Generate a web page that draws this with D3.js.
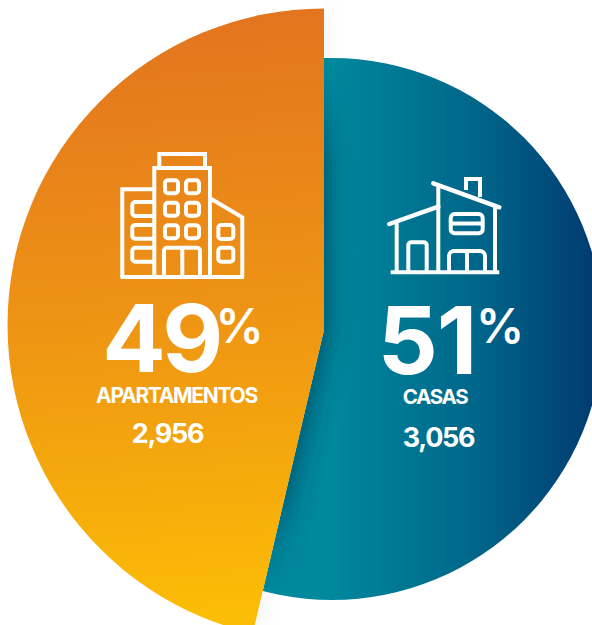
<!DOCTYPE html>
<html><head><meta charset="utf-8">
<script src="https://cdn.jsdelivr.net/npm/d3@7/dist/d3.min.js"></script>
<style>html,body{margin:0;padding:0;background:#fff;overflow:hidden}svg{display:block}text{font-family:Inter,"Liberation Sans",sans-serif;fill:#fff;text-anchor:middle}</style>
</head><body><svg id="c" width="592" height="625"></svg>
<script>
// Data
const categories = ["CASAS", "APARTAMENTOS"];
const percentLabels = [51, 49];
const countLabels = [3056, 2956];
// Sweep of each slice as actually drawn in the reference (% of a full turn)
const drawnSweep = [53.67, 46.33];

const svg = d3.select("#c");
const defs = svg.append("defs");

const vertex = [324, 330];
const tealC = [332, 329], tealR = 271;
const orangeC = [324, 325], orangeR = 316.5;

// gradients (in the local coordinates of each translated disc)
const og = defs.append("linearGradient").attr("id","orange").attr("gradientUnits","userSpaceOnUse")
  .attr("x1",190-orangeC[0]).attr("y1",0-orangeC[1]).attr("x2",240-orangeC[0]).attr("y2",625-orangeC[1]);
[[0,"#e2731f"],[0.5,"#ee9414"],[1,"#fcbe05"]].forEach(s=>og.append("stop").attr("offset",s[0]).attr("stop-color",s[1]));
const tg = defs.append("linearGradient").attr("id","teal").attr("gradientUnits","userSpaceOnUse")
  .attr("x1",335-tealC[0]).attr("y1",0).attr("x2",592-tealC[0]).attr("y2",0);
[[0,"#00889d"],[0.12,"#007f98"],[0.55,"#00668a"],[1,"#003c70"]].forEach(s=>tg.append("stop").attr("offset",s[0]).attr("stop-color",s[1]));
const bl = defs.append("filter").attr("id","blur").attr("x","-30%").attr("y","-30%").attr("width","160%").attr("height","160%");
bl.append("feGaussianBlur").attr("stdDeviation",15);
const bl2 = defs.append("filter").attr("id","soft").attr("x","-30%").attr("y","-30%").attr("width","160%").attr("height","160%");
bl2.append("feGaussianBlur").attr("stdDeviation",14);

// shadow fades out towards the rim of the teal disc
const rg = defs.append("radialGradient").attr("id","fade").attr("gradientUnits","userSpaceOnUse")
  .attr("cx",vertex[0]).attr("cy",vertex[1]).attr("r",265);
[[0,"#fff"],[0.62,"#fff"],[1,"#000"]].forEach(s=>rg.append("stop").attr("offset",s[0]).attr("stop-color",s[1]));
defs.append("mask").attr("id","fadeMask").attr("maskUnits","userSpaceOnUse")
  .attr("x",0).attr("y",0).attr("width",592).attr("height",625)
  .append("rect").attr("width",592).attr("height",625).attr("fill","url(#fade)");

// layout
const pie = d3.pie().sort(null).value(d=>d).startAngle(0).endAngle(2*Math.PI);
const slices = pie(drawnSweep);
const arcWedge = d3.arc().innerRadius(0).outerRadius(450);
const discT = d3.arc().innerRadius(0).outerRadius(tealR).startAngle(0).endAngle(2*Math.PI);
const discO = d3.arc().innerRadius(0).outerRadius(orangeR).startAngle(0).endAngle(2*Math.PI);

defs.append("clipPath").attr("id","tealWedge").append("path")
  .attr("transform",`translate(${vertex})`).attr("d",arcWedge(slices[0]));
defs.append("clipPath").attr("id","orangeWedge").append("path")
  .attr("transform",`translate(${vertex})`).attr("d",arcWedge(slices[1]));
defs.append("clipPath").attr("id","tealDisc").append("path")
  .attr("transform",`translate(${tealC})`).attr("d",discT());

const orangeShape = g => g.append("g").attr("clip-path","url(#orangeWedge)").append("path")
  .attr("transform",`translate(${orangeC})`).attr("d",discO());

// very faint shadow on the white ground, only on the teal side of the cut
const faint = svg.append("g").attr("clip-path","url(#tealWedge)");
orangeShape(faint.append("g").attr("filter","url(#soft)").attr("opacity",0.06)).attr("fill","#000");

// teal slice
const tealG = svg.append("g").attr("clip-path","url(#tealWedge)");
tealG.append("path").attr("transform",`translate(${tealC})`).attr("d",discT()).attr("fill","url(#teal)");
// shadow that the orange slice casts on the teal one
const shadow = tealG.append("g").attr("clip-path","url(#tealDisc)").append("g").attr("mask","url(#fadeMask)")
  .append("g").attr("filter","url(#blur)").attr("opacity",0.8);
orangeShape(shadow).attr("fill","#00304f");

// orange slice
orangeShape(svg).attr("fill","url(#orange)");

// icons
const icon = svg.append("g").attr("fill","none").attr("stroke","#fff").attr("stroke-linejoin","miter");
const building = [
 "M154.3 277V168H210V277","M159.3 168V154H205V168","M154 189.3H122.3V277","M210 198.3L242.3 217.3V277","M120.5 277H244",
 "M132.3 205a3 3 0 0 1 3-3H154","M154 216H135.3a3 3 0 0 1-3-3V205",
 "M154 225H135.3a3 3 0 0 0-3 3V235.7a3 3 0 0 0 3 3H154",
 "M154 247.7H135.3a3 3 0 0 0-3 3V258.7a3 3 0 0 0 3 3H154",
 "M164 277V250.7a3 3 0 0 1 3-3H197a3 3 0 0 1 3 3V277","M182.3 247.7V277"
];
icon.append("g").attr("stroke-width",4).selectAll("path").data(building).join("path").attr("d",d=>d);
const winRects = [[165,180.3],[186,180.3],[165,202.7],[186,202.7],[165,225.3],[186,225.3]];
icon.append("g").attr("stroke-width",4).selectAll("rect").data(winRects).join("rect")
  .attr("x",d=>d[0]).attr("y",d=>d[1]).attr("width",13).attr("height",13).attr("rx",3);
icon.append("g").attr("stroke-width",4).selectAll("rect").data([[218.3,225],[218.3,247.7]]).join("rect")
  .attr("x",d=>d[0]).attr("y",d=>d[1]).attr("width",15).attr("height",14).attr("rx",3);

const house = [
 "M390.7 272.3H499.3",
 "M438.3 187V272","M396.7 222V272","M495 206V272",
 "M466 190V179H480V197",
 "M450.7 223.5H482.7",
 "M408.3 272V245.3a3 3 0 0 1 3-3H423.7a3 3 0 0 1 3 3V272",
 "M449 272V256a5 5 0 0 1 5-5H480a5 5 0 0 1 5 5V272","M467 251V272"
];
icon.append("g").attr("stroke-width",4).selectAll("path").data(house).join("path").attr("d",d=>d);
icon.append("rect").attr("stroke-width",4).attr("x",450.7).attr("y",214).attr("width",32).attr("height",19.3).attr("rx",4);
icon.append("g").attr("stroke-width",4.5).attr("stroke-linecap","round").selectAll("path")
  .data(["M433.3 183.3L499.3 207.3","M389.3 224L438.3 206.7"]).join("path").attr("d",d=>d);

// labels
const fmt = d3.format(",");
const labelPos = [
 {big:[427,374], ls:-1, pct:[500,343], name:[435,404], nameSize:20.5, cnt:[438.5,447]},
 {big:[161,372], ls:-3.5, pct:[239.5,343], name:[176.5,403], nameSize:21, cnt:[167.5,443]}
];
categories.forEach((c,i)=>{
  const p = labelPos[i];
  svg.append("text").attr("x",p.big[0]).attr("y",p.big[1]).attr("font-size",94).attr("font-weight",700).attr("letter-spacing",p.ls).text(percentLabels[i]);
  svg.append("text").attr("x",p.pct[0]).attr("y",p.pct[1]).attr("font-size",48).attr("font-weight",600).text("%");
  svg.append("text").attr("x",p.name[0]).attr("y",p.name[1]).attr("font-size",p.nameSize).attr("font-weight",700).attr("letter-spacing",-1.3).text(c);
  svg.append("text").attr("x",p.cnt[0]).attr("y",p.cnt[1]).attr("font-size",27).attr("font-weight",700).attr("letter-spacing",-1.3).text(fmt(countLabels[i]));
});
</script></body></html>
